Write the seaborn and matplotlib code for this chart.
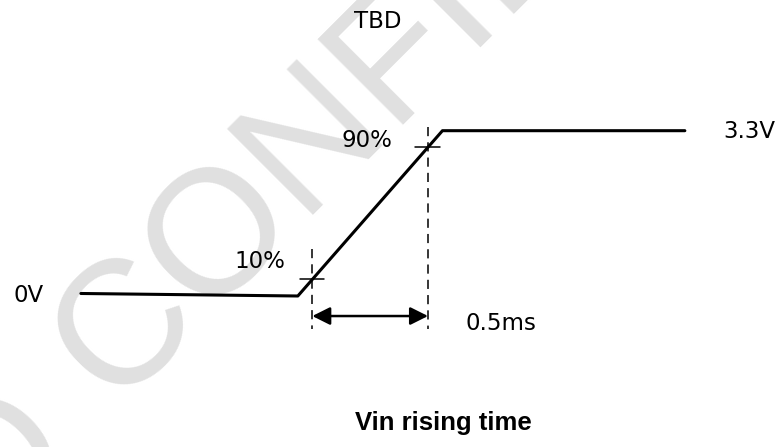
import matplotlib
matplotlib.use("Agg")
import matplotlib.pyplot as plt
import numpy as np
import pandas as pd
import seaborn as sns

# waveform of Vin (time in ms, level in V)
time_ms = [-1.0, -0.0625, 0.5625, 1.61]
vin = [0.05, 0.0, 3.3, 3.3]

v_high = 3.3
marks_pct = [10, 90]
mark_times = [0.0, 0.5]
rise_label = "0.5ms"
watermark = "CONFIDENTIAL"

sns.set_style("white")
plt.rcParams['font.family'] = ['DejaVu Sans']
plt.rcParams['text.color'] = 'black'

fig = plt.figure(figsize=(7.81, 4.47), dpi=100)
ax = fig.add_axes([0, 0, 1, 1])

# watermark behind everything
wm = dict(transform=ax.transAxes, fontsize=127, family='Liberation Sans',
          color='#e0e0e0', rotation=45, rotation_mode='anchor',
          ha='left', va='baseline', zorder=0)
ax.text(114 / 781, 1 - 406 / 447, watermark, **wm)
ax.text(-19 / 781, 1 - 548 / 447, "O", **wm)

df = pd.DataFrame({'t': time_ms, 'v': vin})
sns.lineplot(data=df, x='t', y='v', color='black', linewidth=2.2,
             sort=False, ax=ax, zorder=3)

# 10% / 90% markers
for pct, tm in zip(marks_pct, mark_times):
    lvl = v_high * pct / 100
    ax.plot([tm - 0.055, tm + 0.05], [lvl, lvl], color='black', lw=1.1, zorder=3)
    top = 0.94 if pct == 10 else 3.37
    ax.plot([tm, tm], [top, -0.66], color='black', lw=1.1,
            linestyle=(0, (6, 4)), zorder=3)

ax.annotate('', xy=(mark_times[1], -0.40), xytext=(mark_times[0], -0.40),
            arrowprops=dict(arrowstyle='<|-|>', color='black', lw=1.8,
                            mutation_scale=27, shrinkA=0, shrinkB=0),
            zorder=3)

fs = 16.5
ax.text(-1.227, -0.12, "0V", fontsize=fs, ha='center', va='baseline')
ax.text(-0.226, 0.56, "10%", fontsize=fs, ha='center', va='baseline')
ax.text(0.236, 2.975, "90%", fontsize=fs, ha='center', va='baseline')
ax.text(0.281, 5.35, "TBD", fontsize=fs, ha='center', va='baseline')
ax.text(1.889, 3.154, "3.3V", fontsize=fs, ha='center', va='baseline')
ax.text(0.815, -0.68, rise_label, fontsize=fs, ha='center', va='baseline')
ax.text(0.565, -2.675, "Vin rising time", fontsize=18.5, family='Liberation Sans',
        fontweight='bold', ha='center', va='baseline')

ax.set_xlim(-1.3496, 2.0255)
ax.set_ylim(-3.0146, 5.909)
ax.set_axis_off()

fig.savefig("out.png", dpi=100)
